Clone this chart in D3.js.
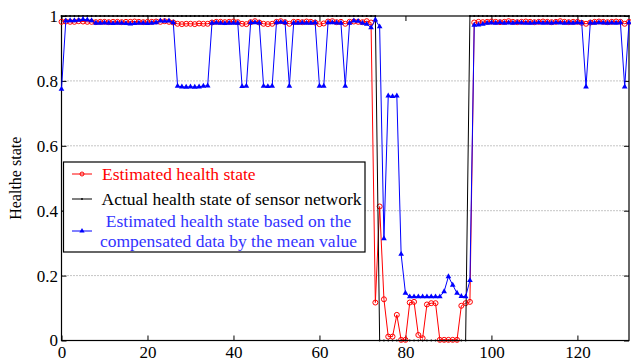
<!DOCTYPE html>
<html>
<head>
    <meta charset="utf-8" />
    <title>Health state</title>
    <script src="https://cdn.jsdelivr.net/npm/d3@7"></script>
    <style>
        body { margin: 0; background: #fff; }
        svg { display: block; font-family: "Liberation Serif", "Times New Roman", serif; }
    </style>
</head>
<body>
    <svg id="chart" width="631" height="361"></svg>
    <script>
        // estimated health state (red circles), x = 0..132
        const estimated = [
            0.982, 0.983, 0.982, 0.982, 0.984, 0.983, 0.982, 0.982, 0.981, 0.982,
            0.982, 0.981, 0.982, 0.982, 0.981, 0.982, 0.982, 0.983, 0.982, 0.981,
            0.982, 0.982, 0.983, 0.982, 0.984, 0.982, 0.980, 0.976, 0.975, 0.976,
            0.976, 0.975, 0.977, 0.976, 0.976, 0.980, 0.982, 0.982, 0.981, 0.982,
            0.983, 0.981, 0.976, 0.975, 0.981, 0.984, 0.980, 0.976, 0.975, 0.976,
            0.982, 0.984, 0.981, 0.976, 0.982, 0.982, 0.981, 0.983, 0.982, 0.980,
            0.975, 0.977, 0.983, 0.984, 0.981, 0.982, 0.976, 0.982, 0.983, 0.982,
            0.981, 0.984, 0.980, 0.117, 0.413, 0.127, 0.012, 0.012, 0.079, 0.002,
            0.002, 0.117, 0.119, 0.017, 0.007, 0.111, 0.115, 0.115, 0.002, 0.002,
            0.002, 0.002, 0.002, 0.107, 0.115, 0.119, 0.980, 0.982, 0.981, 0.982,
            0.983, 0.982, 0.981, 0.982, 0.984, 0.982, 0.981, 0.982, 0.983, 0.982,
            0.981, 0.982, 0.983, 0.982, 0.981, 0.982, 0.984, 0.982, 0.981, 0.982,
            0.982, 0.979, 0.976, 0.980, 0.982, 0.983, 0.982, 0.981, 0.982, 0.983,
            0.982, 0.976, 0.982
        ];
        // actual health state of sensor network (black)
        const actual = [
            1,1,1,1,1,1,1,1,1,1, 1,1,1,1,1,1,1,1,1,1,
            1,1,1,1,1,1,1,1,1,1, 1,1,1,1,1,1,1,1,1,1,
            1,1,1,1,1,1,1,1,1,1, 1,1,1,1,1,1,1,1,1,1,
            1,1,1,1,1,1,1,1,1,1, 1,1,1,1,0,0,0,0,0,0,
            0,0,0,0,0,0,0,0,0,0, 0,0,0,0,0,1,1,1,1,1,
            1,1,1,1,1,1,1,1,1,1, 1,1,1,1,1,1,1,1,1,1,
            1,1,1,1,1,1,1,1,1,1, 1,1,1
        ];
        // estimated health state with mean-value compensated data (blue triangles)
        const compensated = [
            0.775, 0.985, 0.986, 0.986, 0.987, 0.990, 0.988, 0.986, 0.978, 0.978,
            0.979, 0.978, 0.977, 0.978, 0.978, 0.977, 0.976, 0.977, 0.978, 0.978,
            0.977, 0.978, 0.980, 0.985, 0.984, 0.985, 0.980, 0.784, 0.782, 0.781,
            0.782, 0.781, 0.782, 0.784, 0.785, 0.978, 0.979, 0.978, 0.977, 0.978,
            0.978, 0.978, 0.783, 0.784, 0.980, 0.980, 0.979, 0.784, 0.783, 0.784,
            0.980, 0.981, 0.980, 0.784, 0.978, 0.978, 0.979, 0.978, 0.978, 0.980,
            0.784, 0.784, 0.980, 0.980, 0.979, 0.978, 0.784, 0.978, 0.985, 0.984,
            0.978, 0.975, 0.964, 0.988, 0.967, 0.314, 0.754, 0.752, 0.754, 0.266,
            0.146, 0.135, 0.135, 0.135, 0.135, 0.135, 0.135, 0.135, 0.135, 0.151,
            0.197, 0.171, 0.146, 0.136, 0.135, 0.185, 0.972, 0.973, 0.975, 0.978,
            0.979, 0.978, 0.980, 0.978, 0.979, 0.978, 0.980, 0.979, 0.978, 0.978,
            0.979, 0.980, 0.978, 0.979, 0.978, 0.980, 0.979, 0.978, 0.979, 0.978,
            0.980, 0.979, 0.782, 0.979, 0.978, 0.980, 0.979, 0.978, 0.979, 0.978,
            0.980, 0.782, 0.980
        ];
        const xTicks = [0, 20, 40, 60, 80, 100, 120];
        const yTicks = [0, 0.2, 0.4, 0.6, 0.8, 1];
        const yLabels = ["0", "0.2", "0.4", "0.6", "0.8", "1"];
        const gridTicks = [0.2, 0.4, 0.6, 0.8];

        const svg = d3.select('#chart');
        const x = d3.scaleLinear().domain([0, 132]).range([61.5, 629]);
        const y = d3.scaleLinear().domain([0, 1]).range([340.5, 16]);

        // dotted grid
        svg.append('g')
            .selectAll('line')
            .data(gridTicks)
            .enter().append('line')
            .attr('x1', x(0)).attr('x2', x(132))
            .attr('y1', d => y(d)).attr('y2', d => y(d))
            .style('stroke', '#8a8a8a')
            .style('stroke-width', 1)
            .style('stroke-dasharray', '1,2');

        // axes, ticks pointing inward
        const axBottom = svg.append('g')
            .attr('transform', `translate(0,${y(0)})`)
            .call(d3.axisBottom(x).tickValues(xTicks).tickSize(-5).tickPadding(5));
        const axTop = svg.append('g')
            .attr('transform', `translate(0,${y(1)})`)
            .call(d3.axisTop(x).tickValues(xTicks).tickSize(-5).tickFormat(''));
        const axLeft = svg.append('g')
            .attr('transform', `translate(${x(0)},0)`)
            .call(d3.axisLeft(y).tickValues(yTicks).tickSize(-5).tickPadding(3.5)
                .tickFormat((d, i) => yLabels[i]));
        const axRight = svg.append('g')
            .attr('transform', `translate(${x(132)},0)`)
            .call(d3.axisRight(y).tickValues(yTicks).tickSize(-5).tickFormat(''));
        [axBottom, axTop, axLeft, axRight].forEach(g => {
            g.select('.domain').remove();
            g.selectAll('line').style('stroke', '#000');
            g.selectAll('text').style('font-family', '"Liberation Serif", serif')
                .style('font-size', '17px').style('fill', '#000');
        });

        // frame
        svg.append('rect')
            .attr('x', x(0)).attr('y', y(1))
            .attr('width', x(132) - x(0)).attr('height', y(0) - y(1))
            .style('fill', 'none').style('stroke', '#000').style('stroke-width', 1.2);

        svg.append('text')
            .attr('transform', `translate(21,${(y(0) + y(1)) / 2}) rotate(-90)`)
            .attr('text-anchor', 'middle')
            .style('font-size', '16px')
            .text('Healthe state');

        const line = d3.line().x((d, i) => x(i)).y(d => y(d));
        const plot = svg.append('g');

        // red: estimated
        plot.append('path').datum(estimated).attr('d', line)
            .style('fill', 'none').style('stroke', '#ff0000').style('stroke-width', 1);
        plot.append('g').selectAll('circle')
            .data(estimated).enter().append('circle')
            .attr('cx', (d, i) => x(i)).attr('cy', d => y(d)).attr('r', 2.5)
            .style('fill', 'none').style('stroke', '#ff0000').style('stroke-width', 1);

        // black: actual
        plot.append('path').datum(actual).attr('d', line)
            .style('fill', 'none').style('stroke', '#000').style('stroke-width', 1);
        plot.append('g').selectAll('circle')
            .data(actual).enter().append('circle')
            .attr('cx', (d, i) => x(i)).attr('cy', d => y(d)).attr('r', 0.9)
            .style('fill', '#000');

        // blue: compensated
        const tri = d3.symbol().type(d3.symbolTriangle).size(14);
        plot.append('path').datum(compensated).attr('d', line)
            .style('fill', 'none').style('stroke', '#0000ff').style('stroke-width', 1);
        plot.append('g').selectAll('path')
            .data(compensated).enter().append('path')
            .attr('d', tri)
            .attr('transform', (d, i) => `translate(${x(i)},${y(d)})`)
            .style('fill', '#0000ff');

        // legend
        const legend = svg.append('g');
        legend.append('rect')
            .attr('x', 63.5).attr('y', 162).attr('width', 301.5).attr('height', 90)
            .style('fill', '#fff').style('stroke', '#000').style('stroke-width', 1.2);
        const items = [
            { color: '#ff0000', y: 174, text: ['Estimated health state'], ty: [174], anchor: 'start', tx: 102 },
            { color: '#000', y: 199, text: ['Actual health state of sensor network'], ty: [199], anchor: 'start', tx: 101.5 },
            { color: '#0000ff', y: 231, text: ['Estimated health state based on the', 'compensated data by the mean value'], ty: [220.5, 241], anchor: 'middle', tx: 228.5 }
        ];
        items.forEach((it, k) => {
            legend.append('line')
                .attr('x1', 72).attr('x2', 92).attr('y1', it.y).attr('y2', it.y)
                .style('stroke', it.color).style('stroke-width', 1);
            if (k === 0) {
                legend.append('circle').attr('cx', 82).attr('cy', it.y).attr('r', 2)
                    .style('fill', 'none').style('stroke', it.color);
            } else if (k === 1) {
                legend.append('circle').attr('cx', 82).attr('cy', it.y).attr('r', 0.9)
                    .style('fill', it.color);
            } else {
                legend.append('path').attr('d', d3.symbol().type(d3.symbolTriangle).size(12))
                    .attr('transform', `translate(82,${it.y})`).style('fill', it.color);
            }
            it.text.forEach((t, j) => {
                legend.append('text')
                    .attr('x', it.tx).attr('y', it.ty[j]).attr('dy', '0.35em')
                    .attr('text-anchor', it.anchor)
                    .style('font-size', '17.5px')
                    .style('fill', k === 2 ? '#3333ff' : it.color)
                    .text(t);
            });
        });
    </script>
</body>
</html>
